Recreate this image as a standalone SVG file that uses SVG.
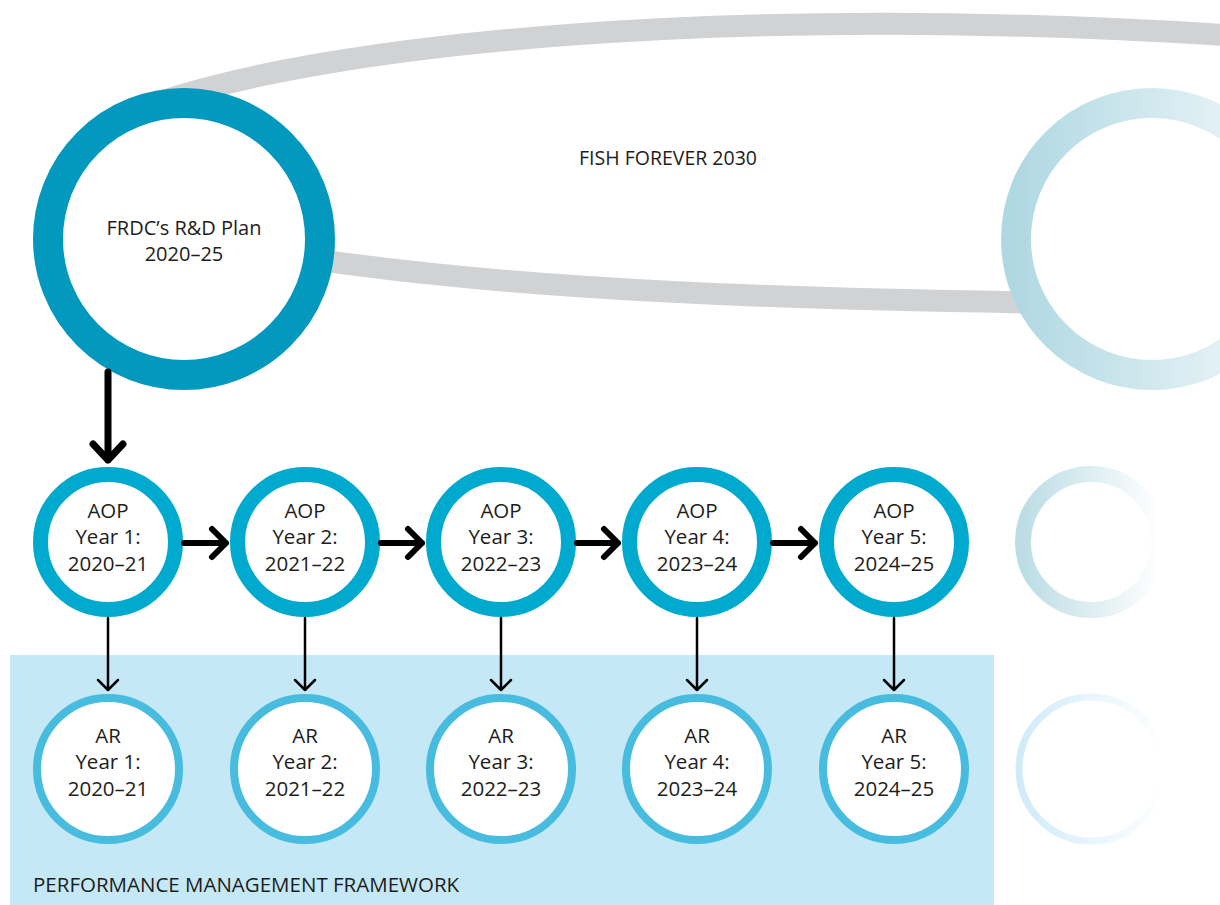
<svg xmlns="http://www.w3.org/2000/svg" width="1220" height="905" viewBox="0 0 1220 905">
<style>
text{font-family:"Open Sans","Noto Sans","Liberation Sans",sans-serif;font-size:20.5px;fill:#1d1d1b;text-anchor:middle}
.aop{fill:#fff;stroke:#00A9CE;stroke-width:15}
.ar{fill:#fff;stroke:#48BCDE;stroke-width:8}
.big{fill:none;stroke:#000;stroke-width:7;stroke-linecap:round;stroke-linejoin:round}
.mid{fill:none;stroke:#000;stroke-width:6;stroke-linecap:round;stroke-linejoin:round}
.thin{fill:none;stroke:#000;stroke-width:2.5;stroke-linecap:round;stroke-linejoin:round}
.band{fill:none;stroke:#D1D2D4;stroke-width:22}
</style>
<defs>
<linearGradient id="g1" x1="0" y1="0" x2="1" y2="0"><stop offset="0" stop-color="#B0D8E2"/><stop offset="1" stop-color="#F3F9FB"/></linearGradient>
<linearGradient id="g2" x1="0" y1="0" x2="1" y2="0"><stop offset="0" stop-color="#BCDDE5"/><stop offset="1" stop-color="#FFFFFF"/></linearGradient>
<linearGradient id="g3" x1="0" y1="0" x2="1" y2="0"><stop offset="0" stop-color="#D0EBF8"/><stop offset="1" stop-color="#FFFFFF"/></linearGradient>
</defs>
<rect x="0" y="0" width="1220" height="905" fill="#fff"/>
<g id="pmf">
<rect x="10" y="655" width="984" height="250" fill="#C5E8F7"/>
<text x="33" y="892" style="text-anchor:start">PERFORMANCE MANAGEMENT FRAMEWORK</text>
</g>
<g id="fish-forever">
<path class="band" d="M160 102C330 45 720 2 1240 36"/>
<path class="band" d="M280 254C500 290 800 303 1240 304"/>
<text x="668" y="165" style="font-size:19.5px">FISH FOREVER 2030</text>
</g>
<g id="future-plan">
<circle cx="1152" cy="239" r="136" fill="#fff" stroke="url(#g1)" stroke-width="30"/>
</g>
<g id="rd-plan">
<circle cx="184" cy="239" r="136" fill="#fff" stroke="#0399BE" stroke-width="30"/>
<text x="184" y="235" style="font-size:20px">FRDC’s R&amp;D Plan</text>
<text x="184" y="261" style="font-size:20px">2020–25</text>
</g>
<g id="aop-future"><circle cx="1091" cy="542" r="68" fill="#fff" stroke="url(#g2)" stroke-width="16"/></g>
<g id="ar-future"><circle cx="1091" cy="769" r="72" fill="none" stroke="url(#g3)" stroke-width="7"/></g>
<g id="aop1"><circle class="aop" cx="108" cy="542" r="67.5"/><text x="108" y="518">AOP</text><text x="108" y="544">Year 1:</text><text x="108" y="571">2020–21</text></g>
<g id="aop2"><circle class="aop" cx="305" cy="542" r="67.5"/><text x="305" y="518">AOP</text><text x="305" y="544">Year 2:</text><text x="305" y="571">2021–22</text></g>
<g id="aop3"><circle class="aop" cx="501" cy="542" r="67.5"/><text x="501" y="518">AOP</text><text x="501" y="544">Year 3:</text><text x="501" y="571">2022–23</text></g>
<g id="aop4"><circle class="aop" cx="697" cy="542" r="67.5"/><text x="697" y="518">AOP</text><text x="697" y="544">Year 4:</text><text x="697" y="571">2023–24</text></g>
<g id="aop5"><circle class="aop" cx="894" cy="542" r="67.5"/><text x="894" y="518">AOP</text><text x="894" y="544">Year 5:</text><text x="894" y="571">2024–25</text></g>
<g id="ar1"><circle class="ar" cx="108" cy="769" r="71"/><text x="108" y="743">AR</text><text x="108" y="769">Year 1:</text><text x="108" y="796">2020–21</text></g>
<g id="ar2"><circle class="ar" cx="305" cy="769" r="71"/><text x="305" y="743">AR</text><text x="305" y="769">Year 2:</text><text x="305" y="796">2021–22</text></g>
<g id="ar3"><circle class="ar" cx="501" cy="769" r="71"/><text x="501" y="743">AR</text><text x="501" y="769">Year 3:</text><text x="501" y="796">2022–23</text></g>
<g id="ar4"><circle class="ar" cx="697" cy="769" r="71"/><text x="697" y="743">AR</text><text x="697" y="769">Year 4:</text><text x="697" y="796">2023–24</text></g>
<g id="ar5"><circle class="ar" cx="894" cy="769" r="71"/><text x="894" y="743">AR</text><text x="894" y="769">Year 5:</text><text x="894" y="796">2024–25</text></g>
<g id="connectors">
<path class="big" d="M108 372V460M93 444L108 460L123 444"/>
<path class="mid" d="M184 543H226M212 529L226 543L212 557"/>
<path class="mid" d="M381 543H422M408 529L422 543L408 557"/>
<path class="mid" d="M577 543H618M604 529L618 543L604 557"/>
<path class="mid" d="M773 543H815M801 529L815 543L801 557"/>
<path class="thin" d="M108 618V690M98 680L108 690L118 680"/>
<path class="thin" d="M305 618V690M295 680L305 690L315 680"/>
<path class="thin" d="M501 618V690M491 680L501 690L511 680"/>
<path class="thin" d="M697 618V690M687 680L697 690L707 680"/>
<path class="thin" d="M894 618V690M884 680L894 690L904 680"/>
</g>
</svg>
